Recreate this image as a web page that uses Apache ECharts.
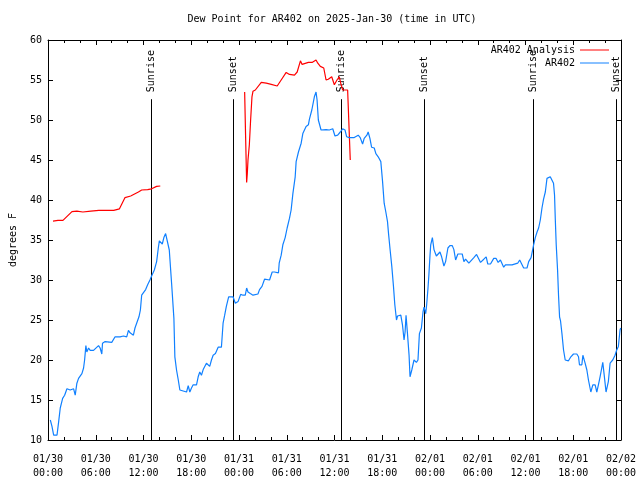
<!DOCTYPE html>
<html><head><meta charset="utf-8">
<script src="https://cdn.jsdelivr.net/npm/echarts@6/dist/echarts.min.js"></script>
<style>html,body{margin:0;padding:0;background:#fff}#c{width:640px;height:480px}</style>
</head><body><div id="c"></div>
<script>
const titleText = 'Dew Point for AR402 on 2025-Jan-30 (time in UTC)';
const yAxisTitle = 'degrees F';
const xTickLabels = ['01/30\n00:00','01/30\n06:00','01/30\n12:00','01/30\n18:00','01/31\n00:00','01/31\n06:00','01/31\n12:00','01/31\n18:00','02/01\n00:00','02/01\n06:00','02/01\n12:00','02/01\n18:00','02/02\n00:00'];
const seriesNames = ['AR402 Analysis','AR402'];

// hours since 2025-01-30 00:00 UTC
const analysisHours = [0.63,1.25,1.88,3.01,3.63,4.38,5.38,6.39,8.26,8.98,9.68,10.39,11.36,11.77,12.52,13.02,13.65,14.11,
  19.0,
  24.71,24.83,24.96,25.04,25.13,25.30,25.46,25.63,25.76,26.05,26.80,27.42,28.05,28.80,29.30,29.93,30.34,30.97,31.31,31.72,31.93,32.14,32.72,33.18,33.68,33.90,34.22,34.65,34.94,35.22,35.65,35.98,36.31,36.60,36.81,37.03,37.65,37.85,37.98];
const analysisValues = [37.35,37.45,37.45,38.55,38.6,38.5,38.6,38.7,38.7,38.9,40.3,40.5,41.0,41.25,41.3,41.4,41.7,41.75,
  null,
  53.5,47.9,42.2,43.25,45.0,46.9,50.0,52.9,53.6,53.75,54.7,54.6,54.45,54.25,55.0,55.95,55.7,55.6,56.0,57.4,56.95,57.2,57.2,57.2,57.5,57.1,56.7,56.5,55.0,55.1,55.4,54.4,55.0,55.4,54.5,53.75,53.75,53.6,45.0];

const obsHours = [0.29,0.50,0.71,1.13,1.34,1.54,1.84,2.09,2.38,2.79,3.22,3.42,3.63,3.84,4.26,4.47,4.60,4.76,4.88,5.10,5.30,5.72,5.92,6.35,6.55,6.76,6.85,7.18,7.39,8.01,8.43,9.05,9.48,9.89,10.11,10.31,10.73,10.93,11.14,11.43,11.61,11.77,11.98,12.27,12.52,12.81,13.02,13.36,13.65,13.86,13.99,14.19,14.36,14.56,14.78,15.03,15.24,15.53,15.82,15.94,16.15,16.37,16.57,16.78,17.41,17.62,17.82,18.03,18.24,18.66,18.87,19.07,19.28,19.50,19.70,19.91,20.12,20.32,20.54,20.75,21.04,21.38,21.79,22.00,22.20,22.41,22.70,23.25,23.54,23.88,24.21,24.51,24.79,24.96,25.13,25.42,25.76,26.38,26.58,26.89,27.21,27.84,28.17,28.46,28.68,28.96,29.05,29.30,29.51,29.80,30.05,30.34,30.55,30.77,31.06,31.18,31.47,31.81,32.02,32.43,32.72,32.85,33.15,33.47,33.68,33.81,33.97,34.31,34.52,34.94,35.15,35.35,35.56,35.78,36.06,36.40,36.73,37.03,37.32,37.53,37.85,38.48,38.98,39.23,39.53,39.73,39.95,40.07,40.23,40.45,40.66,40.99,41.20,41.49,41.82,42.04,42.24,42.45,42.66,42.79,42.99,43.20,43.41,43.58,43.79,43.92,44.12,44.33,44.54,44.74,44.87,44.99,45.17,45.37,45.49,45.71,45.99,46.29,46.49,46.67,46.92,47.12,47.25,47.46,47.58,47.75,47.87,48.00,48.09,48.30,48.50,48.80,49.00,49.25,49.46,49.75,49.96,50.25,50.50,50.80,51.00,51.22,51.50,52.05,52.26,52.47,52.88,53.09,53.51,53.85,54.35,54.56,54.76,55.06,55.26,55.60,56.01,56.31,56.56,56.85,57.06,57.26,57.48,58.31,58.52,59.02,59.27,59.48,59.77,60.19,60.40,60.70,60.90,61.02,61.23,61.45,61.65,61.86,62.07,62.27,62.49,62.70,62.90,63.11,63.32,63.52,63.65,63.74,63.86,64.03,64.15,64.28,64.40,64.58,64.78,64.99,65.40,65.70,66.03,66.45,66.66,66.78,67.08,67.21,67.49,67.71,67.91,68.21,68.46,68.75,68.96,69.16,69.37,69.58,69.71,69.87,70.12,70.41,70.63,70.96,71.25,71.46,71.67,71.88,71.96];
const obsValues = [12.5,11.7,10.6,10.6,12.3,14.0,15.2,15.6,16.4,16.25,16.4,15.6,17.1,17.7,18.3,19.0,20.0,21.8,21.0,21.5,21.2,21.2,21.0,21.8,21.5,20.75,22.1,22.3,22.4,22.2,22.9,22.9,23.0,22.9,23.7,23.4,23.1,24.0,24.6,25.4,26.25,28.1,28.25,28.8,29.4,30.0,30.5,31.25,32.3,34.0,34.9,34.8,34.5,35.3,35.8,35.8,33.75,29.6,25.2,20.4,18.75,17.5,16.25,16.0,16.0,16.8,16.0,16.5,16.9,16.9,17.9,18.5,18.1,18.8,19.0,19.6,19.4,19.2,20.0,20.6,20.8,21.6,21.6,24.6,25.6,26.7,27.9,27.9,27.1,27.3,28.2,28.1,28.1,29.0,28.5,28.3,28.1,28.25,28.8,29.2,30.1,30.0,31.0,31.0,30.8,30.9,32.1,33.1,34.4,35.3,36.5,37.7,38.75,40.8,42.9,44.8,46.0,47.1,48.3,49.2,49.4,50.1,51.25,52.9,53.5,52.5,50.0,48.75,48.8,48.8,49.0,48.75,48.5,48.9,48.0,48.1,48.5,48.9,48.75,47.9,47.8,47.8,48.1,47.8,47.0,47.7,47.9,48.1,48.5,47.7,46.6,46.5,45.8,45.4,44.8,42.3,39.6,38.5,37.3,35.8,33.75,31.7,29.2,26.9,25.0,25.5,25.6,25.6,24.4,22.5,23.5,25.6,23.3,20.6,17.9,18.75,20.0,19.7,20.0,23.3,24.0,26.0,26.6,25.8,26.9,29.0,30.8,33.1,34.4,35.3,33.8,33.0,33.0,33.5,32.9,31.75,32.3,34.0,34.3,34.3,33.8,32.5,33.25,33.25,32.3,32.6,32.1,32.2,32.8,33.2,32.2,32.2,32.6,32.9,32.0,32.0,32.7,32.7,32.2,32.5,32.4,31.6,31.9,31.9,32.1,32.1,32.5,32.4,31.5,31.5,32.3,32.8,32.9,34.4,35.3,36.0,36.5,37.5,39.0,40.1,41.0,42.7,42.9,42.9,43.1,42.1,40.6,37.7,34.4,31.25,28.1,25.4,24.9,23.3,21.25,20.0,19.9,20.4,20.75,20.75,20.4,19.4,19.4,20.6,19.6,18.75,17.5,16.0,16.9,16.9,16.0,16.9,17.9,19.0,19.7,18.3,16.0,17.3,19.6,20.0,20.6,21.25,21.7,23.75,24.0];

const eventNames = ['Sunrise','Sunset','Sunrise','Sunset','Sunrise','Sunset'];
const eventHours = [12.94,23.20,36.85,47.25,60.90,71.34];

const FONT = 'DejaVu Sans Mono';
const chart = echarts.init(document.getElementById('c'), null, {renderer:'canvas'});

const xCommon = {
  type:'value', min:0, max:72, interval:6,
  axisLine:{show:true, onZero:false, lineStyle:{color:'#000', width:1}},
  axisTick:{show:true, inside:true, length:5, lineStyle:{color:'#000'}},
  minorTick:{show:true, splitNumber:3, length:3, lineStyle:{color:'#000'}},
  splitLine:{show:false}
};
const yCommon = {
  type:'value', min:10, max:60, interval:5,
  axisLine:{show:true, onZero:false, lineStyle:{color:'#000', width:1}},
  axisTick:{show:true, inside:true, length:5, lineStyle:{color:'#000'}},
  splitLine:{show:false}
};

const option = {
  backgroundColor:'#fff',
  animation:false,
  grid:{left:46, right:19, top:40, bottom:40, containLabel:false},
  graphic:[{type:'text', x:332, y:19, style:{text:titleText, fontFamily:FONT, fontSize:10, fill:'#000', align:'center', verticalAlign:'middle'}}],
  legend:{
    orient:'vertical', right:26, top:40, align:'right', icon:'rect',
    itemWidth:29, itemHeight:1, itemGap:3, selectedMode:false,
    textStyle:{fontFamily:FONT, fontSize:10, color:'#000'},
    data:seriesNames
  },
  xAxis:[
    Object.assign({}, xCommon, {position:'bottom',
      axisLabel:{show:true, margin:12, fontFamily:FONT, fontSize:10, color:'#000', lineHeight:14,
        formatter:(v)=>{const i=Math.round(v/6); return xTickLabels[i] || '';}}}),
    Object.assign({}, xCommon, {position:'top', axisLabel:{show:false}})
  ],
  yAxis:[
    Object.assign({}, yCommon, {position:'left', name:yAxisTitle, nameLocation:'middle', nameGap:30,
      nameTextStyle:{fontFamily:FONT, fontSize:10, color:'#000'},
      axisLabel:{show:true, margin:6, fontFamily:FONT, fontSize:10, color:'#000'}}),
    Object.assign({}, yCommon, {position:'right', axisLabel:{show:false}})
  ],
  series:[
    {name:seriesNames[0], type:'line', xAxisIndex:0, yAxisIndex:0, showSymbol:false, symbol:'none',
      color:'#ff0000', lineStyle:{color:'#ff0000', width:1.2}, connectNulls:false,
      data:analysisHours.map((h,i)=>[h, analysisValues[i]===null?'-':analysisValues[i]])},
    {name:seriesNames[1], type:'line', xAxisIndex:0, yAxisIndex:0, showSymbol:false, symbol:'none',
      color:'#1080ff', lineStyle:{color:'#1080ff', width:1.2},
      data:obsHours.map((h,i)=>[h, obsValues[i]])},
    {name:'events', type:'custom', xAxisIndex:0, yAxisIndex:0, silent:true,
      data:eventHours.map((h,i)=>[h, 10, i]),
      renderItem:(params, api)=>{
        const p = api.coord([api.value(0), 10]);
        const x = Math.round(p[0]) + 0.5;
        const yb = p[1];
        const yt = api.coord([api.value(0), 52.6])[1];
        const idx = api.value(2);
        return {type:'group', children:[
          {type:'line', shape:{x1:x, y1:yb, x2:x, y2:yt}, style:{stroke:'#000', lineWidth:1}},
          {type:'text', x:x, y:yt-7, rotation:Math.PI/2,
            style:{text:eventNames[idx], fontFamily:FONT, fontSize:10, fill:'#000', align:'left', verticalAlign:'middle'}}
        ]};
      }}
  ]
};
chart.setOption(option);
</script>
</body></html>
